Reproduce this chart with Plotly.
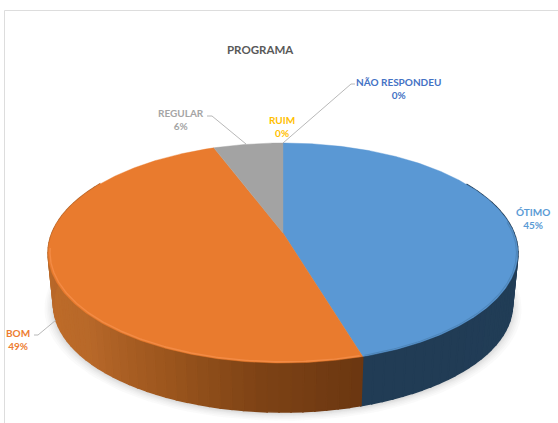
import numpy as np
import plotly.graph_objects as go

categories = ["ÓTIMO", "BOM", "REGULAR", "RUIM", "NÃO RESPONDEU"]
values = [45.4, 48.9, 5.7, 0, 0]
slice_colors = ["#5B9BD5", "#ED7D31", "#A5A5A5", "#FFC000", "#4472C4"]
top_colors = ["#5A98D4", "#E97B2E", "#A3A3A3", "#FFC000", "#4472C4"]
title = "PROGRAMA"

W, H = 558, 423
CX, CY = 283, 233      # apex of the pie on the page
A, C, K = 231, 106.4, 0.1818   # perspective projection of the disc
DEPTH, BOTTOM_SCALE = 52, 0.977


def project(theta, r=1.0, dy=0.0, s=1.0):
    """theta in degrees clockwise from 12 o'clock, on a perspective disc."""
    t = np.radians(theta)
    u, v = r * np.sin(t), -r * np.cos(t)
    den = 1 - K * v
    return CX + s * A * u / den, CY + dy + s * C * v / den


def hex_rgb(h):
    return np.array([int(h[i:i + 2], 16) for i in (1, 3, 5)], float)


def side_color(theta, stops):
    angs = [p[0] for p in stops]
    cols = np.array([hex_rgb(p[1]) for p in stops])
    c = [np.interp(theta, angs, cols[:, i]) for i in range(3)]
    return "rgb(%d,%d,%d)" % tuple(c)


fig = go.Figure()


def poly(x, y, color, line=0.6):
    fig.add_trace(go.Scatter(x=list(x), y=list(y), mode="lines", fill="toself",
                             fillcolor=color,
                             line=dict(color=color, width=line), hoverinfo="skip"))


# soft shadow under the disc
ring = np.linspace(0, 360, 181)
for grow in [9, 7, 5.5, 4, 3, 2, 1]:
    x, y = project(ring, dy=DEPTH + 1 + grow * 0.3, s=BOTTOM_SCALE + grow / 235)
    poly(x, y, "rgba(110,110,110,0.035)", line=0)

# slice boundaries from the values
cum = np.cumsum([0] + values)
bounds = cum / cum[-1] * 360

# side wall, only the front half is seen
orange_stops = [(163, "#6B3711"), (185, "#7E4316"), (205, "#9C561E"),
                (228, "#B8692A"), (250, "#BE6C29"), (275, "#B5652A"), (345, "#B5652A")]
blue_stops = [(60, "#233F59"), (163, "#213C55")]
step = 2.5
for i, (start, end) in enumerate(zip(bounds[:-1], bounds[1:])):
    lo, hi = max(start, 60), min(end, 300)
    if hi <= lo:
        continue
    stops = blue_stops if i == 0 else orange_stops if i == 1 else [(0, "#6E6E6E"), (360, "#6E6E6E")]
    n = max(1, int(np.ceil((hi - lo) / step)))
    edges = np.linspace(lo, hi, n + 1)
    for a0, a1 in zip(edges[:-1], edges[1:]):
        arc = np.linspace(a0, a1, 3)
        x1, y1 = project(arc)
        x2, y2 = project(arc[::-1], dy=DEPTH, s=BOTTOM_SCALE)
        poly(np.r_[x1, x2, x1[0]], np.r_[y1, y2, y1[0]], side_color((a0 + a1) / 2, stops), line=1.6)

# top of the disc
for v, start, end, color in zip(values, bounds[:-1], bounds[1:], top_colors):
    if v <= 0:
        continue
    arc = np.linspace(start, end, max(3, int(end - start) * 2))
    x, y = project(arc)
    poly(np.r_[CX, x, CX], np.r_[CY, y, CY], color, line=0.4)

# bevel highlights on the rim
arc = np.linspace(bounds[1] + 0.5, 262, 200)
x, y = project(arc, r=0.992)
fig.add_trace(go.Scatter(x=x, y=y, mode="lines", line=dict(color="#F38B45", width=1.4), hoverinfo="skip"))
arc = np.linspace(84, bounds[1] - 0.5, 120)
x, y = project(arc, r=0.994)
fig.add_trace(go.Scatter(x=x, y=y, mode="lines", line=dict(color="#4F87BB", width=1.1), hoverinfo="skip"))

# leader lines
leader_color = "#A6A6A6"
for lx, ly in [([207, 212, 246], [116, 116, 144]),
               ([355, 351, 283], [84, 84, 143]),
               ([34, 38, 56], [335, 335, 320])]:
    fig.add_trace(go.Scatter(x=lx, y=ly, mode="lines",
                             line=dict(color=leader_color, width=0.8), hoverinfo="skip"))

label_pos = [(533, 218), (18, 339), (181, 119.5), (282, 126.5), (398, 88)]
annotations = [
    dict(x=x, y=y, xref="x", yref="y", showarrow=False, xanchor="center", yanchor="middle",
         text=f"{c}<br>{round(v)}%", align="center",
         font=dict(family="Lato", size=10, color=col, weight="bold"))
    for c, v, col, (x, y) in zip(categories, values, slice_colors, label_pos)
]
annotations.append(dict(x=260, y=49, xref="x", yref="y", showarrow=False, text=title,
                        font=dict(family="Lato", size=11.5, color="#595959", weight="bold")))

frame = "#DDDDDD"
fig.update_layout(
    width=W, height=H, margin=dict(l=0, r=0, t=0, b=0), showlegend=False,
    paper_bgcolor="white", plot_bgcolor="white",
    xaxis=dict(range=[0, W], visible=False, fixedrange=True),
    yaxis=dict(range=[H, 0], visible=False, fixedrange=True),
    annotations=annotations,
    shapes=[dict(type="line", x0=4.5, x1=4.5, y0=10.5, y1=H, xref="x", yref="y", line=dict(color=frame, width=1)),
            dict(type="line", x0=4.5, x1=W, y0=10.5, y1=10.5, xref="x", yref="y", line=dict(color=frame, width=1))],
)
fig.write_html("out.html", config=dict(displayModeBar=False),
               post_script="document.body.style.margin='0';document.body.style.overflow='hidden';")
